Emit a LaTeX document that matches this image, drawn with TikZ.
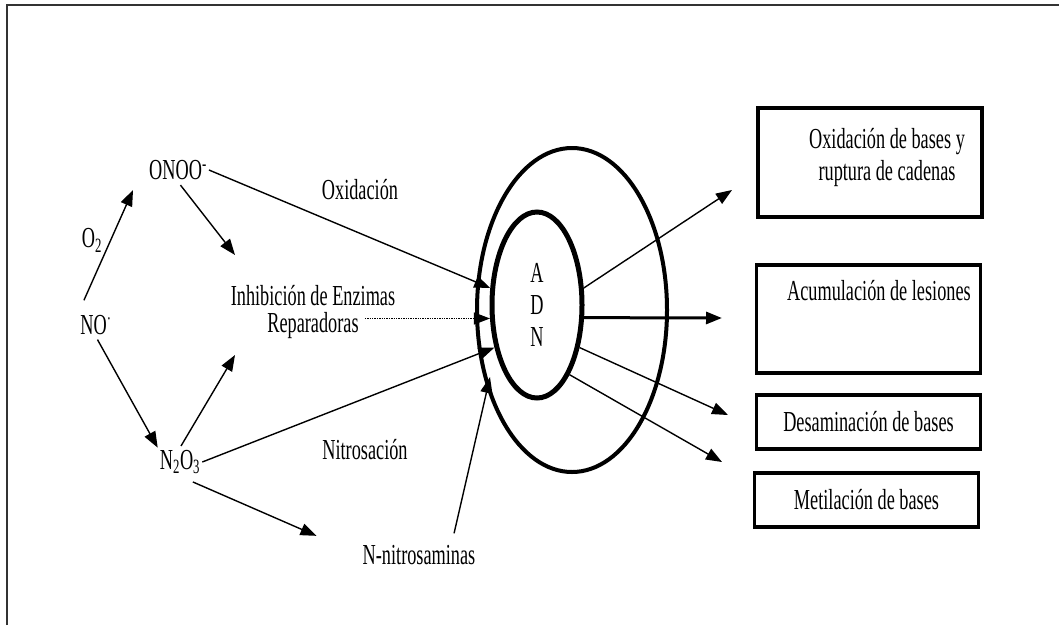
\documentclass[tikz,border=0pt]{standalone}
\usepackage{fontspec}
\setmainfont[FakeStretch=0.63]{Liberation Serif}
\usetikzlibrary{positioning,arrows.meta,shapes.geometric}

\begin{document}
\begin{tikzpicture}[x=1pt, y=-1pt,
    every node/.style = { font = \fontsize{29}{32}\selectfont, inner sep = 2pt },
    arr/.style = { draw, line width = 1.4pt, -{Triangle[length=16pt,width=12pt]} },
    ring/.style = { draw, shape = ellipse, inner sep = 0pt },
    box/.style = { draw, line width = 3.2pt, minimum width = 224pt, minimum height = #1, align = center }]
    \useasboundingbox (0,0) rectangle (1059,625);
    \draw[line width = 1.2pt, black!80] (7,625) -- (7,5) -- (1059,5);

    \node (no) at (96,325) {NO\textsuperscript{·}};
    \node (onoo) at (178,170) {ONOO\textsuperscript{-}};
    \node (n2o3) at (180,462) {N\textsubscript{2}O\textsubscript{3}};
    \node (o2) at (92,240) {O\textsubscript{2}};
    \node (inhib) at (313,296) {Inhibición de Enzimas};
    \node (repar) at (313,326) {Reparadoras};
    \node (oxlab) at (360,190) {Oxidación};
    \node (nitlab) at (365,450) {Nitrosación};
    \node (nitros) at (419,555) {N-nitrosaminas};

    \node [ring, line width = 4pt, minimum width = 190pt, minimum height = 324pt] (cell) at (572,310) {};
    \node [ring, line width = 5pt, minimum width = 90pt, minimum height = 186pt, align = center] (adn) at (537,305) {A\\D\\N};

    \node [box = 109pt] (res1) at (870,162.5) {};
    \node [below = 20pt of res1.north, xshift = 17pt, align = center] (oxbase) {Oxidación de bases y\\ruptura de cadenas};
    \node [box = 108pt] (res2) at (868.5,319) {};
    \node [below right = 15pt and 30pt of res2.north west] (lesion) {Acumulación de lesiones};
    \node [box = 54pt] (res3) at (868.5,422) {Desaminación de bases};
    \node [box = 54pt] (res4) at (866.5,500) {Metilación de bases};

    \coordinate (tipO2) at (133,190);
    \coordinate (tipIa) at (235,255);
    \coordinate (tipIb) at (235,355);
    \coordinate (tipNa) at (490,377);
    \coordinate (tipR1) at (732,190);
    \coordinate (tipR2) at (722,318);
    \coordinate (tipR3) at (728,415);
    \coordinate (tipR4) at (722,462);

    \draw[arr, shorten <= 14pt] (no.north west) -- (tipO2);
    \draw[arr, shorten <= 3pt] (no.south) -- (n2o3.north west);
    \draw[arr, shorten <= 4pt] (onoo.south) -- (tipIa);
    \draw[arr, shorten <= 2pt] (n2o3.north) -- (tipIb);
    \draw[arr] (onoo.east) -- (adn.160);
    \draw[arr, densely dotted, line width = 1.1pt] ([xshift = 4pt]repar.east |- adn.196) -- (adn.196);
    \draw[arr] (n2o3.east) -- (adn.225);
    \draw[arr, shorten <= 14pt, shorten >= 48pt] (n2o3.south) -- (nitros.west);
    \draw[arr, shorten <= 10pt] (nitros.20) -- (tipNa);
    \draw[arr] (adn.20) -- (tipR1);
    \draw[arr, line width = 3pt] (adn.-15) -- (tipR2);
    \draw[arr] (adn.-45) -- (tipR3);
    \draw[arr] (adn.-65) -- (tipR4);
\end{tikzpicture}
\end{document}
